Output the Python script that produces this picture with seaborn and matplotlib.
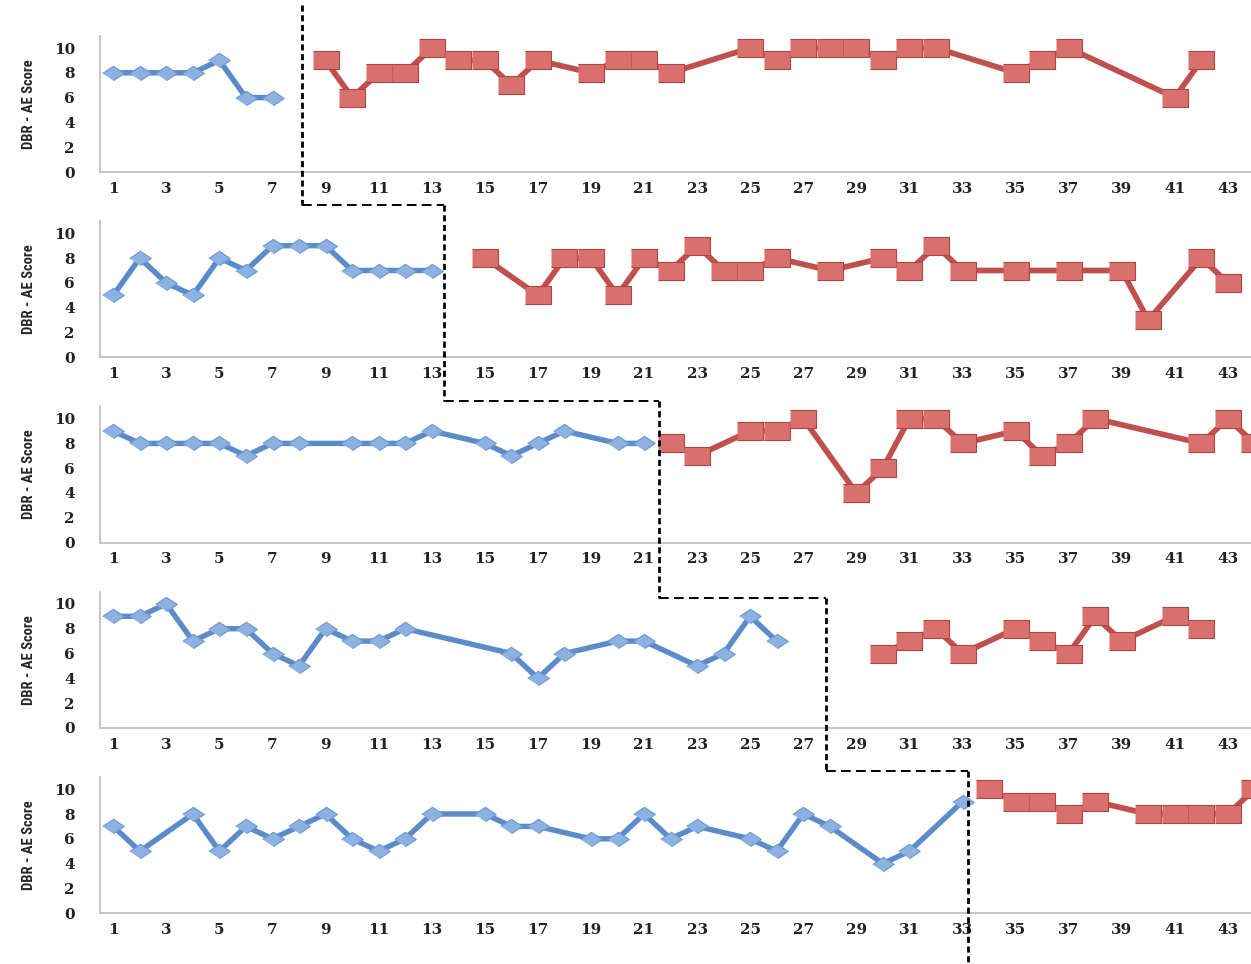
import matplotlib
matplotlib.use("Agg")
import matplotlib.pyplot as plt
from matplotlib.lines import Line2D
import seaborn as sns

# session numbers and DBR-AE scores, baseline (blue) and intervention (red), one pair per student
p1_base_x = [1, 2, 3, 4, 5, 6, 7]
p1_base_y = [8, 8, 8, 8, 9, 6, 6]
p1_treat_x = [9, 10, 11, 12, 13, 14, 15, 16, 17, 19, 20, 21, 22, 25, 26, 27, 28, 29, 30, 31, 32, 35, 36, 37, 41, 42]
p1_treat_y = [9, 6, 8, 8, 10, 9, 9, 7, 9, 8, 9, 9, 8, 10, 9, 10, 10, 10, 9, 10, 10, 8, 9, 10, 6, 9]

p2_base_x = [1, 2, 3, 4, 5, 6, 7, 8, 9, 10, 11, 12, 13]
p2_base_y = [5, 8, 6, 5, 8, 7, 9, 9, 9, 7, 7, 7, 7]
p2_treat_x = [15, 17, 18, 19, 20, 21, 22, 23, 24, 25, 26, 28, 30, 31, 32, 33, 35, 37, 39, 40, 42, 43]
p2_treat_y = [8, 5, 8, 8, 5, 8, 7, 9, 7, 7, 8, 7, 8, 7, 9, 7, 7, 7, 7, 3, 8, 6]

p3_base_x = [1, 2, 3, 4, 5, 6, 7, 8, 10, 11, 12, 13, 15, 16, 17, 18, 20, 21]
p3_base_y = [9, 8, 8, 8, 8, 7, 8, 8, 8, 8, 8, 9, 8, 7, 8, 9, 8, 8]
p3_treat_x = [22, 23, 25, 26, 27, 29, 30, 31, 32, 33, 35, 36, 37, 38, 42, 43, 44]
p3_treat_y = [8, 7, 9, 9, 10, 4, 6, 10, 10, 8, 9, 7, 8, 10, 8, 10, 8]

p4_base_x = [1, 2, 3, 4, 5, 6, 7, 8, 9, 10, 11, 12, 16, 17, 18, 20, 21, 23, 24, 25, 26]
p4_base_y = [9, 9, 10, 7, 8, 8, 6, 5, 8, 7, 7, 8, 6, 4, 6, 7, 7, 5, 6, 9, 7]
p4_treat_x = [30, 31, 32, 33, 35, 36, 37, 38, 39, 41, 42]
p4_treat_y = [6, 7, 8, 6, 8, 7, 6, 9, 7, 9, 8]

p5_base_x = [1, 2, 4, 5, 6, 7, 8, 9, 10, 11, 12, 13, 15, 16, 17, 19, 20, 21, 22, 23, 25, 26, 27, 28, 30, 31, 33]
p5_base_y = [7, 5, 8, 5, 7, 6, 7, 8, 6, 5, 6, 8, 8, 7, 7, 6, 6, 8, 6, 7, 6, 5, 8, 7, 4, 5, 9]
p5_treat_x = [34, 35, 36, 37, 38, 40, 41, 42, 43, 44]
p5_treat_y = [10, 9, 9, 8, 9, 8, 8, 8, 8, 10]

# phase change line: x where it crosses each panel, y (in the lower panel's units) of each step
phase_x = [8.1, 13.45, 21.55, 27.85, 33.2]
step_y = [12.3, 11.45, 10.5, 11.5]

panels = [
    (p1_base_x, p1_base_y, p1_treat_x, p1_treat_y),
    (p2_base_x, p2_base_y, p2_treat_x, p2_treat_y),
    (p3_base_x, p3_base_y, p3_treat_x, p3_treat_y),
    (p4_base_x, p4_base_y, p4_treat_x, p4_treat_y),
    (p5_base_x, p5_base_y, p5_treat_x, p5_treat_y),
]

sns.set_style("white")
plt.rcParams["font.family"] = ["DejaVu Serif"]

diamond = [(-1.5, 0), (0, 1), (1.5, 0), (0, -1)]
rect = [(-1.4, -1), (1.4, -1), (1.4, 1), (-1.4, 1)]

W, H = 1251, 964
fig = plt.figure(figsize=(W / 100, H / 100), dpi=100)

axes = []
for i, (bx, by, tx, ty) in enumerate(panels):
    y0 = 172 + i * 185.3  # pixel row of the zero line
    ax = fig.add_axes([100 / W, 1 - y0 / H, 1 - 100 / W, 136.4 / H])
    sns.lineplot(x=bx, y=by, ax=ax, color="#5b8bc9", lw=3.9, marker=diamond,
                 markersize=15.5, markerfacecolor="#8cb2e2", markeredgecolor="#6a98d2",
                 markeredgewidth=0.8, legend=False)
    sns.lineplot(x=tx, y=ty, ax=ax, color="#c0504d", lw=4.1, marker=rect,
                 markersize=18.5, markerfacecolor="#d8716d", markeredgecolor="#b4433f",
                 markeredgewidth=0.8, legend=False)
    ax.set_xlim(0.5, 43.87)
    ax.set_ylim(0, 11)
    ax.set_xticks(range(1, 44, 2))
    ax.set_yticks(range(0, 11, 2))
    ax.tick_params(axis="both", length=0, labelsize=11, labelcolor="#222222")
    ax.tick_params(axis="x", pad=7)
    ax.tick_params(axis="y", pad=18)
    for lab in ax.get_xticklabels() + ax.get_yticklabels():
        lab.set_fontweight("bold")
    for s in ["top", "right"]:
        ax.spines[s].set_visible(False)
    for s in ["left", "bottom"]:
        ax.spines[s].set_color("#c0c0c0")
        ax.spines[s].set_linewidth(1.3)
    ax.set_xlabel("")
    ax.set_ylabel("DBR - AE Score", fontsize=10.5, fontweight="bold", fontstretch="condensed",
                  family=["Roboto Condensed", "Liberation Sans Narrow", "DejaVu Sans"])
    ax.yaxis.set_label_coords(-0.056, 0.5)
    ax.patch.set_alpha(0)
    axes.append(ax)


def to_fig(ax, x, y):
    return fig.transFigure.inverted().transform(ax.transData.transform((x, y)))


# vertical dashed segments
for i in range(5):
    if i == 0:
        top = to_fig(axes[0], phase_x[0], 0)[0], 1 - 5 / H
    else:
        top = to_fig(axes[i], phase_x[i], step_y[i - 1])
    if i < 4:
        bot = to_fig(axes[i + 1], phase_x[i], step_y[i])
    else:
        bot = (top[0], 0)
    fig.add_artist(Line2D([top[0], bot[0]], [top[1], bot[1]], transform=fig.transFigure,
                          color="black", lw=2.0, linestyle=(0, (2.2, 1.3))))

# horizontal dashed steps
for i in range(4):
    a = to_fig(axes[i + 1], phase_x[i], step_y[i])
    b = to_fig(axes[i + 1], phase_x[i + 1], step_y[i])
    fig.add_artist(Line2D([a[0], b[0]], [a[1], b[1]], transform=fig.transFigure,
                          color="black", lw=1.4, linestyle=(0, (5, 2.7))))

fig.savefig("out.png", dpi=100)
